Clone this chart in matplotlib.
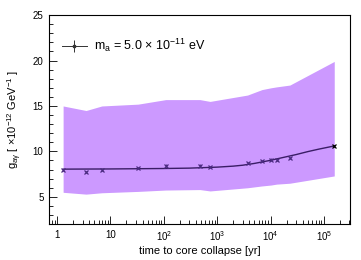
import math
import matplotlib.pyplot as plt
import matplotlib.ticker as ticker

plt.rcParams['font.family'] = ['Liberation Sans', 'DejaVu Sans']
plt.rcParams['mathtext.fontset'] = 'custom'
plt.rcParams['mathtext.rm'] = 'Liberation Sans'
plt.rcParams['mathtext.it'] = 'Liberation Sans'

# data
t = [1.3, 3.5, 6.9, 33, 109, 475, 735, 3700, 6900, 10200, 13000, 23000, 156000]
g = [7.97, 7.7, 7.97, 8.15, 8.44, 8.44, 8.3, 8.7, 8.95, 9.1, 9.1, 9.25, 10.64]
g_err = [0.12, 0.12, 0.12, 0.12, 0.12, 0.12, 0.12, 0.12, 0.12, 0.12, 0.12, 0.12, 0.12]
band_hi = [15.0, 14.5, 15.0, 15.2, 15.7, 15.7, 15.5, 16.2, 16.8, 17.0, 17.1, 17.3, 19.9]
band_lo = [5.5, 5.3, 5.45, 5.6, 5.75, 5.8, 5.65, 6.0, 6.2, 6.3, 6.4, 6.5, 7.3]

# fitted curve
fit_t = [1.3, 10, 100, 300, 1000, 2000, 3000, 5000, 10000, 20000, 30000, 50000, 80000, 156000]
fit_g = [8.05, 8.07, 8.12, 8.16, 8.27, 8.38, 8.48, 8.68, 9.02, 9.42, 9.65, 9.98, 10.25, 10.6]

fig = plt.figure(figsize=(3.61, 2.60), dpi=100)
ax = fig.add_axes([0.136, 0.138, 0.834, 0.804])

ax.fill_between(t, band_lo, band_hi, color='#cc99ff', lw=0)
ax.plot(fit_t, fit_g, color='#3a1d66', lw=1.0)
ax.errorbar(t[:-1], g[:-1], yerr=g_err[:-1], fmt='x', ms=2.2, mew=0.9, color='#4a2a80',
            elinewidth=0.6, capsize=0)
ax.errorbar(t[-1:], g[-1:], yerr=g_err[-1:], fmt='x', ms=2.2, mew=0.9, color='black',
            elinewidth=0.6, capsize=0)

# legend entry
h = ax.errorbar([], [], yerr=[], fmt='-s', ms=1.8, lw=0.7, color='#333333',
                elinewidth=0.7, capsize=1.8)
ax.legend([h], [r'm$_{\rm a}$ = 5.0 $\times$ 10$^{-11}$ eV'], loc='upper left',
          frameon=False, fontsize=9, handlelength=2.0, handletextpad=0.6,
          borderaxespad=0.6, bbox_to_anchor=(0.0, 0.955))

ax.set_xscale('log')
ax.set_xlim(0.71, 3.1e5)
ax.set_ylim(2, 25)
ax.xaxis.set_major_locator(ticker.LogLocator(base=10, numticks=10))
ax.xaxis.set_major_formatter(ticker.FuncFormatter(
    lambda v, p: '1' if v == 1 else ('10' if v == 10 else r'$10^{%d}$' % round(math.log10(v)))))
ax.yaxis.set_major_locator(ticker.MultipleLocator(5))
ax.yaxis.set_minor_locator(ticker.MultipleLocator(1))

ax.tick_params(which='both', direction='in', top=False, right=False, labelsize=7, pad=4)
ax.tick_params(which='major', length=6, width=0.6)
ax.tick_params(which='minor', length=3, width=0.6)
for s in ax.spines.values():
    s.set_linewidth(0.8)

ax.set_xlabel('time to core collapse [yr]', fontsize=8, labelpad=2)
ax.set_ylabel(r'g$_{\rm a\gamma}$ [ $\times$10$^{-12}$ GeV$^{-1}$ ]', fontsize=8, labelpad=6)

fig.savefig('out.png', dpi=100)
